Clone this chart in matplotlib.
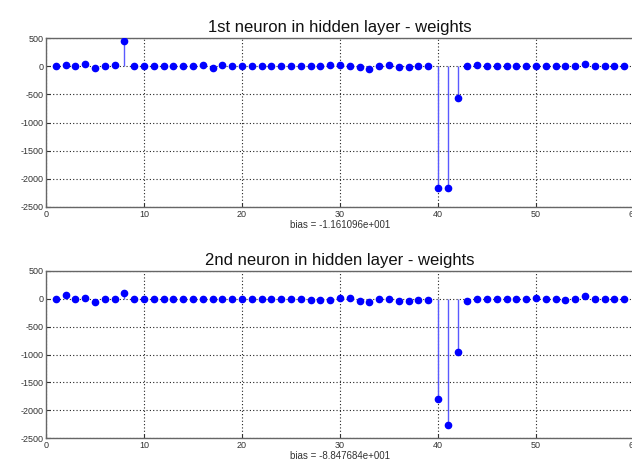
import matplotlib
matplotlib.use("Agg")
import matplotlib.pyplot as plt
import numpy as np

idx = list(range(1, 60))
w1 = [0, 18, 0, 30, -35, 0, 18, 450, 0, 0,
      0, 0, 0, 0, 0, 24, -30, 18, 0, 0,
      0, 0, 0, 0, 0, 0, 0, 0, 12, 18,
      0, -18, -47, 0, 24, -18, -18, 0, 0, -2170,
      -2170, -560, 0, 18, 0, 0, 0, 0, 0, 0,
      0, 0, 0, 0, 30, 0, 0, 0, 0]
w2 = [0, 60, 0, 12, -54, 0, 0, 107, 0, 0,
      0, 0, 0, 0, 0, 0, 0, 0, 0, 0,
      0, 0, 0, 0, 0, 0, -24, -24, -12, 12,
      12, -40, -54, 0, 0, -40, -40, -24, -12, -1800,
      -2270, -950, -30, 0, 0, 0, 0, 0, 0, 8,
      0, 0, -18, 0, 42, 0, 0, 0, 0]
titles = ["1st neuron in hidden layer - weights", "2nd neuron in hidden layer - weights"]
biases = ["bias = -1.161096e+001", "bias = -8.847684e+001"]
xticks = [0, 10, 20, 30, 40, 50, 60]
yticks = [500, 0, -500, -1000, -1500, -2000, -2500]

plt.rcParams['font.family'] = ['Liberation Sans', 'DejaVu Sans']
plt.rcParams['axes.unicode_minus'] = False
fig = plt.figure(figsize=(6.32, 4.66), dpi=100)
fig.patch.set_facecolor('white')

W = 634/632 - 46/632
positions = [[46/632, 1-207/466, W, (207-38)/466],
             [46/632, 1-438/466, W, (438-271)/466]]

for pos, w, t, b in zip(positions, [w1, w2], titles, biases):
    ax = fig.add_axes(pos)
    ax.vlines(idx, 0, w, colors='#5a5aff', linewidth=1.0, zorder=2)
    ax.plot(idx, w, 'o', color='#0000ff', markersize=4.5, zorder=3)
    ax.set_xlim(0, 60)
    ax.set_ylim(-2500, 500)
    ax.set_xticks(xticks)
    ax.set_yticks(yticks)
    ax.grid(True, color='#222222', linestyle=(0, (1, 2)), linewidth=0.8)
    ax.set_axisbelow(True)
    ax.tick_params(direction='in', labelsize=6.5, colors='#333333', length=3, pad=2)
    for s in ['left', 'bottom', 'top', 'right']:
        ax.spines[s].set_color('#666666')
        ax.spines[s].set_linewidth(1.0)
    ax.set_title(t, fontsize=12, pad=4, color='#111111')
    ax.set_xlabel(b, fontsize=7, labelpad=1, color='#333333')

fig.savefig("out.png", dpi=100, facecolor='white')
